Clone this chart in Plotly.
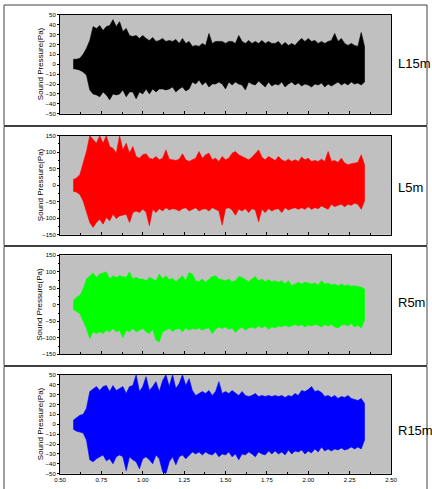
import plotly.graph_objects as go

# time samples (s)
T = [0.58, 0.60, 0.62, 0.64, 0.66, 0.68, 0.70, 0.72, 0.74, 0.76,
     0.78, 0.80, 0.82, 0.84, 0.86, 0.88, 0.90, 0.92, 0.94, 0.96,
     0.98, 1.00, 1.02, 1.04, 1.06, 1.08, 1.10, 1.12, 1.14, 1.16,
     1.18, 1.20, 1.22, 1.24, 1.26, 1.28, 1.30, 1.32, 1.34, 1.36,
     1.38, 1.40, 1.42, 1.44, 1.46, 1.48, 1.50, 1.52, 1.54, 1.56,
     1.58, 1.60, 1.62, 1.64, 1.66, 1.68, 1.70, 1.72, 1.74, 1.76,
     1.78, 1.80, 1.82, 1.84, 1.86, 1.88, 1.90, 1.92, 1.94, 1.96,
     1.98, 2.00, 2.02, 2.04, 2.06, 2.08, 2.10, 2.12, 2.14, 2.16,
     2.18, 2.20, 2.22, 2.24, 2.26, 2.28, 2.30, 2.32, 2.34]

# L15m envelope (Pa)
L15_UP = [5, 5, 6, 10, 16, 24, 38, 36, 39, 34,
          38, 39, 45, 38, 43, 33, 36, 29, 28, 29,
          26, 29, 26, 24, 27, 23, 24, 26, 23, 24,
          23, 25, 21, 26, 21, 23, 18, 19, 18, 21,
          19, 31, 21, 23, 23, 23, 21, 23, 23, 21,
          29, 23, 21, 24, 21, 23, 21, 24, 21, 23,
          21, 21, 23, 19, 22, 19, 21, 19, 23, 26,
          23, 26, 23, 24, 21, 23, 21, 23, 24, 31,
          23, 26, 21, 19, 21, 19, 18, 32, 18]
L15_LO = [-4.5, -5, -6, -8, -11, -26, -30, -31, -33, -28,
          -31, -36, -30, -31, -30, -26, -33, -28, -28, -35,
          -28, -30, -25, -30, -25, -28, -25, -25, -26, -25,
          -23, -28, -25, -23, -27, -25, -18, -20, -16, -21,
          -18, -23, -20, -20, -18, -20, -25, -18, -21, -18,
          -20, -21, -26, -18, -20, -21, -17, -20, -23, -18,
          -22, -20, -21, -18, -23, -20, -18, -21, -19, -22,
          -20, -21, -23, -20, -21, -19, -23, -20, -22, -20,
          -18, -21, -19, -21, -18, -20, -19, -21, -18]

# L5m envelope (Pa)
L5_UP = [17, 22, 32, 67, 102, 150, 137, 127, 150, 127,
         150, 117, 112, 97, 150, 107, 127, 97, 117, 87,
         82, 92, 95, 82, 79, 87, 77, 82, 107, 79,
         77, 75, 79, 95, 77, 72, 77, 82, 102, 82,
         92, 97, 77, 82, 72, 87, 77, 82, 97, 102,
         92, 87, 82, 77, 85, 97, 107, 85, 77, 87,
         82, 75, 87, 77, 72, 79, 72, 77, 72, 85,
         77, 82, 72, 75, 72, 79, 72, 102, 72, 75,
         69, 82, 67, 62, 65, 67, 69, 92, 62]
L5_LO = [-18, -21, -28, -48, -83, -113, -128, -113, -103, -118,
         -98, -108, -88, -101, -93, -91, -88, -113, -83, -78,
         -83, -73, -81, -123, -73, -83, -71, -78, -68, -75,
         -71, -73, -78, -71, -68, -78, -73, -68, -78, -73,
         -71, -78, -68, -73, -78, -121, -71, -68, -75, -91,
         -73, -78, -71, -83, -71, -75, -111, -73, -83, -71,
         -78, -73, -71, -83, -68, -75, -71, -68, -73, -68,
         -73, -65, -73, -68, -71, -63, -68, -73, -58, -65,
         -61, -58, -65, -58, -61, -55, -58, -73, -48]

# R5m envelope (Pa)
R5_UP = [13, 23, 28, 48, 78, 88, 96, 83, 93, 96,
         100, 78, 88, 83, 88, 86, 83, 100, 78, 83,
         78, 78, 73, 83, 78, 73, 93, 78, 88, 76,
         80, 70, 78, 88, 73, 98, 93, 73, 70, 78,
         68, 78, 86, 88, 78, 76, 73, 78, 70, 73,
         86, 83, 76, 70, 78, 86, 73, 78, 70, 76,
         70, 73, 68, 73, 63, 73, 58, 63, 68, 63,
         68, 66, 63, 66, 60, 73, 63, 66, 60, 63,
         58, 63, 58, 60, 56, 58, 56, 53, 48]
R5_LO = [-14, -20, -27, -47, -72, -102, -82, -87, -82, -87,
         -77, -82, -72, -82, -77, -100, -77, -82, -72, -82,
         -77, -72, -82, -87, -74, -107, -112, -82, -77, -72,
         -80, -74, -72, -82, -70, -77, -72, -74, -70, -77,
         -72, -70, -87, -74, -67, -72, -67, -74, -70, -84,
         -74, -67, -77, -70, -67, -72, -64, -70, -64, -74,
         -67, -70, -64, -67, -62, -67, -64, -60, -64, -60,
         -67, -62, -64, -60, -62, -67, -60, -64, -60, -67,
         -70, -62, -60, -64, -57, -67, -62, -70, -47]

# R15m envelope (Pa)
R15_UP = [4, 7, 9, 10, 16, 33, 36, 38, 34, 38,
          39, 33, 39, 34, 36, 38, 31, 38, 39, 50,
          33, 38, 48, 34, 38, 43, 33, 44, 50, 38,
          50, 36, 41, 50, 39, 46, 34, 29, 31, 33,
          31, 34, 29, 33, 43, 31, 33, 31, 34, 31,
          29, 33, 29, 28, 29, 31, 28, 29, 28, 29,
          28, 29, 28, 29, 27, 29, 28, 31, 29, 34,
          33, 35, 38, 33, 34, 32, 28, 29, 27, 29,
          26, 28, 27, 29, 26, 25, 24, 26, 21]
R15_LO = [-5, -7, -8, -9, -16, -36, -38, -35, -33, -31,
          -37, -35, -40, -33, -31, -33, -47, -33, -36, -38,
          -45, -35, -33, -36, -40, -31, -35, -48, -50, -38,
          -33, -41, -33, -31, -35, -31, -28, -30, -28, -31,
          -28, -30, -31, -28, -33, -30, -31, -28, -33, -30,
          -36, -30, -31, -28, -30, -33, -28, -30, -31, -27,
          -30, -27, -30, -28, -31, -26, -30, -27, -28, -26,
          -30, -27, -29, -25, -28, -23, -27, -25, -27, -25,
          -26, -24, -26, -25, -23, -25, -23, -25, -16]

LABELS = ["L15m", "L5m", "R5m", "R15m"]
COLORS = ["#000000", "#ff0000", "#00ff00", "#0000ff"]
YRANGES = [[-50, 50], [-150, 150], [-150, 150], [-50, 50]]
YDTICK = [10, 50, 50, 10]
YTITLE = "Sound Pressure(Pa)"
X_RANGE = [0.5, 2.5]

W, H = 432, 489
# plot area pixel extents (top, bottom) for each panel
PANEL_PX = [(14.7, 113.7), (135.7, 234.7), (255.3, 354.3), (374.7, 473.7)]
LABEL_PY = [63, 187, 302, 430]
FRAMES = [(5, 125.5), (126.5, 245.5), (246.5, 365.5), (366.5, 492)]
X0_PX, X1_PX = 60, 391

TICKFONT = dict(family="Liberation Sans Narrow, Liberation Sans, Arial", size=6, color="black")

series = [(L15_UP, L15_LO), (L5_UP, L5_LO), (R5_UP, R5_LO), (R15_UP, R15_LO)]
for up, lo in series:
    assert len(up) == len(T) and len(lo) == len(T)

fig = go.Figure()
layout = dict(width=W, height=H, autosize=False, margin=dict(l=0, r=0, t=0, b=0, pad=0, autoexpand=False),
              paper_bgcolor="white", showlegend=False,
              font=dict(family="Liberation Sans, Arial", color="black"))
annotations = []
shapes = []

for i in range(4):
    n = "" if i == 0 else str(i + 1)
    xa, ya = "x" + n, "y" + n
    up, lo = series[i]
    fig.add_trace(go.Scatter(x=T + T[::-1], y=up + lo[::-1], xaxis=xa, yaxis=ya, mode="lines",
                             line=dict(color=COLORS[i], width=0.6),
                             fill="toself", fillcolor=COLORS[i], hoverinfo="skip"))
    top, bot = PANEL_PX[i]
    dom_y = [1 - bot / H, 1 - top / H]
    last = (i == 3)
    layout["xaxis" + n] = dict(
        domain=[X0_PX / W, X1_PX / W], range=X_RANGE, anchor=ya,
        showline=True, mirror=True, linecolor="black", linewidth=1,
        showgrid=False, zeroline=False, automargin=False,
        ticks="inside", ticklen=3, tickcolor="black", tick0=0.5, dtick=0.25,
        minor=dict(dtick=0.125, ticks="inside", ticklen=2, tickcolor="black"),
        showticklabels=last, tickformat=".2f", tickfont=TICKFONT)
    ymin, ymax = YRANGES[i]
    ydict = dict(
        domain=dom_y, range=[ymin, ymax], anchor=xa,
        showline=True, mirror=True, linecolor="black", linewidth=1,
        showgrid=False, zeroline=False, automargin=False,
        ticks="outside", ticklen=2, tickcolor="black", tick0=0, dtick=YDTICK[i],
        tickfont=TICKFONT)
    if YDTICK[i] == 50:
        ydict["minor"] = dict(dtick=25, ticks="outside", ticklen=1.5, tickcolor="black")
    layout["yaxis" + n] = ydict
    shapes.append(dict(type="rect", xref="paper", yref="paper", layer="below",
                       x0=X0_PX / W, x1=X1_PX / W, y0=dom_y[0], y1=dom_y[1],
                       fillcolor="#c0c0c0", line=dict(width=0)))
    f0, f1 = FRAMES[i]
    shapes.append(dict(type="rect", xref="paper", yref="paper",
                       x0=4 / W, x1=427 / W, y0=1 - f1 / H, y1=1 - f0 / H,
                       line=dict(color="#404040", width=1)))
    annotations.append(dict(text=YTITLE, textangle=-90, xref="paper", yref="paper",
                            x=40 / W, y=(dom_y[0] + dom_y[1]) / 2, showarrow=False,
                            xanchor="center", yanchor="middle",
                            font=dict(family="Liberation Sans, Arial", size=8, color="black")))
    annotations.append(dict(text=LABELS[i], xref="paper", yref="paper",
                            x=396 / W, y=1 - LABEL_PY[i] / H, showarrow=False,
                            xanchor="left", yanchor="middle",
                            font=dict(family="Liberation Sans, Arial", size=13, color="black")))

layout["plot_bgcolor"] = "rgba(0,0,0,0)"
layout["annotations"] = annotations
layout["shapes"] = shapes
fig.update_layout(**layout)
fig.write_html("out.html", config={"responsive": False, "displayModeBar": False},
               post_script="document.body.style.margin='0';document.body.style.overflow='hidden';")
